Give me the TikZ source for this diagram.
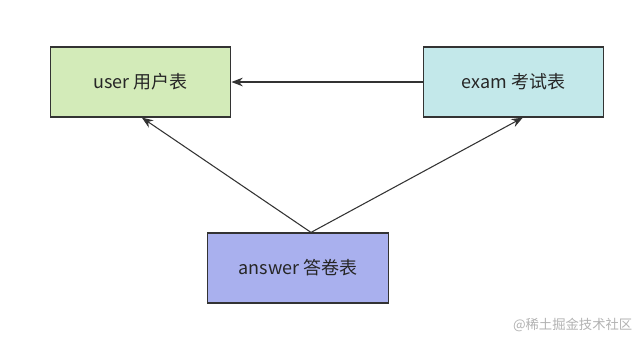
\documentclass[tikz,border=0pt]{standalone}
\usepackage{fontspec}
\setmainfont{Noto Sans CJK SC}
\usetikzlibrary{arrows.meta}
\definecolor{usergreen}{HTML}{D3EBB9}
\definecolor{examcyan}{HTML}{C3E8EA}
\definecolor{answerblue}{HTML}{A9B0EE}
\definecolor{edgegray}{HTML}{333333}

\begin{document}
\begin{tikzpicture}[x=0.75pt, y=-0.75pt, font=\fontsize{13.5pt}{16pt}\selectfont,
  >={Stealth[length=8.5pt, width=6.5pt]},
  table/.style={draw=edgegray, line width=.9pt, minimum width=135.5pt,
    minimum height=52.5pt, inner sep=0pt, text=black!85},
  link/.style={->, line width=.8pt, draw=edgegray}]
  \useasboundingbox (0,0) rectangle (644,340);
  \node[table, fill=usergreen] (user) at (140.5,82) {user 用户表};
  \node[table, fill=examcyan] (exam) at (513.5,82) {exam 考试表};
  \node[table, fill=answerblue] (answer) at (298,268) {answer 答卷表};

  \draw[link] (exam.west) -- (user.east);
  \draw[link] ([xshift=9.75pt]answer.north) -- ([xshift=1pt]user.south);
  \draw[link] ([xshift=9.75pt]answer.north) -- ([xshift=7pt]exam.south);

  \node[anchor=east, text=black!30, font=\fontsize{10pt}{12pt}\selectfont]
    (mark) at (637,325) {@稀土掘金技术社区};
\end{tikzpicture}
\end{document}
